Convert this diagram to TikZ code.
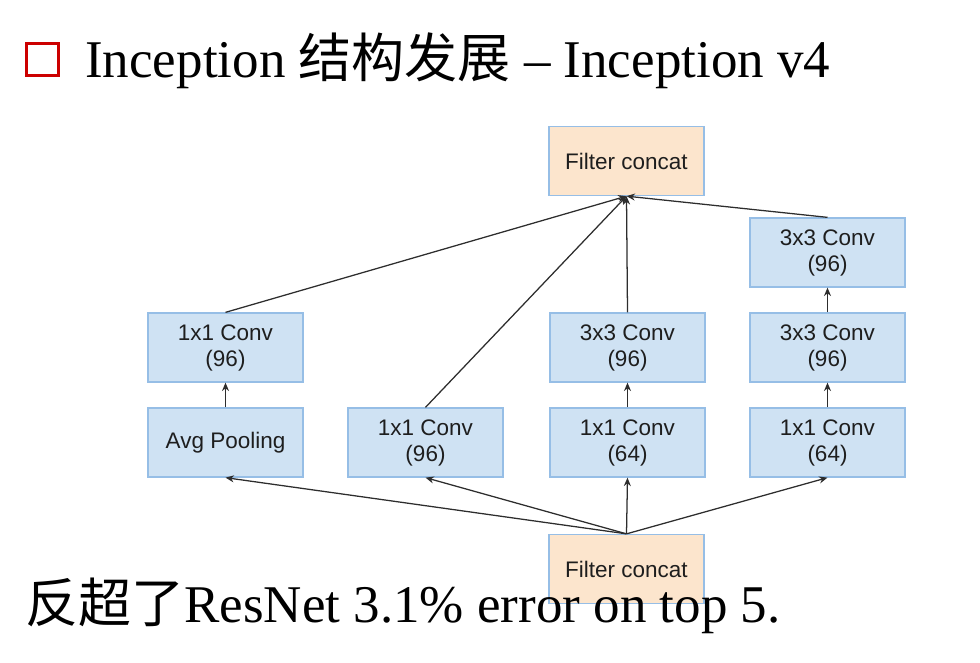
\documentclass[tikz,border=0pt]{standalone}
\usepackage{fontspec}
\setmainfont{Liberation Serif}
\newfontfamily\cjk{Noto Sans CJK SC}
\newfontfamily\boxfont{Liberation Sans}
\usetikzlibrary{arrows, arrows.meta}
\definecolor{convfill}{RGB}{207,226,243}
\definecolor{concatfill}{RGB}{252,229,205}
\definecolor{boxline}{RGB}{150,190,230}
\definecolor{boxtext}{RGB}{30,30,30}
\definecolor{linegray}{RGB}{45,45,45}
\definecolor{titlered}{RGB}{204,0,0}
\tikzset{
  layer/.style={rectangle, draw=boxline, line width=0.9pt, minimum width=3.875cm, minimum height=1.725cm, inner sep=0pt, align=center, text=boxtext, font=\boxfont\fontsize{16}{18.5}\selectfont},
  conv/.style={layer, fill=convfill},
  concat/.style={layer, fill=concatfill},
  flow/.style={draw=linegray, line width=0.9pt, -{Stealth[length=6pt, width=5pt]}},
  slide/.style={anchor=base west, inner sep=0pt, font=\fontsize{37.7}{40}\selectfont},
}

\begin{document}
\begin{tikzpicture}[x=0.025cm, y=-0.025cm]
  \useasboundingbox (0,0) rectangle (980,663);

  % title line
  \node[draw=titlered, line width=2.8pt, minimum size=0.8cm, inner sep=0pt] (bullet) at (42.5,59.5) {};
  \node[slide] (title) at (85,78) {Inception {\cjk 结构发展} – Inception v4};

  % inception v4 block
  \node[concat] (top) at (626.5,161) {Filter concat};
  \node[conv] (poolconv) at (225.5,347.5) {1x1 Conv\\(96)};
  \node[conv] (pool) at (225.5,442.5) {Avg Pooling};
  \node[conv] (onebyone) at (425.5,442.5) {1x1 Conv\\(96)};
  \node[conv] (midconv) at (627.5,347.5) {3x3 Conv\\(96)};
  \node[conv] (midred) at (627.5,442.5) {1x1 Conv\\(64)};
  \node[conv] (rightconvb) at (827.5,252.5) {3x3 Conv\\(96)};
  \node[conv] (rightconva) at (827.5,347.5) {3x3 Conv\\(96)};
  \node[conv] (rightred) at (827.5,442.5) {1x1 Conv\\(64)};
  \node[concat] (bottom) at (626.5,569) {Filter concat};

  \draw[flow] (bottom.north) -- (pool.south);
  \draw[flow] (bottom.north) -- (onebyone.south);
  \draw[flow] (bottom.north) -- (midred.south);
  \draw[flow] (bottom.north) -- (rightred.south);

  \draw[flow] (pool) -- (poolconv);
  \draw[flow] (midred) -- (midconv);
  \draw[flow] (rightred) -- (rightconva);
  \draw[flow] (rightconva) -- (rightconvb);

  \draw[flow] (poolconv.north) -- (top.south);
  \draw[flow] (onebyone.north) -- (top.south);
  \draw[flow] (midconv.north) -- (top.south);
  \draw[flow] (rightconvb.north) -- (top.south);

  % note under the block
  \node[slide] (note) at (25,622) {{\cjk 反超了}ResNet 3.1\% error on top 5.};
\end{tikzpicture}
\end{document}
